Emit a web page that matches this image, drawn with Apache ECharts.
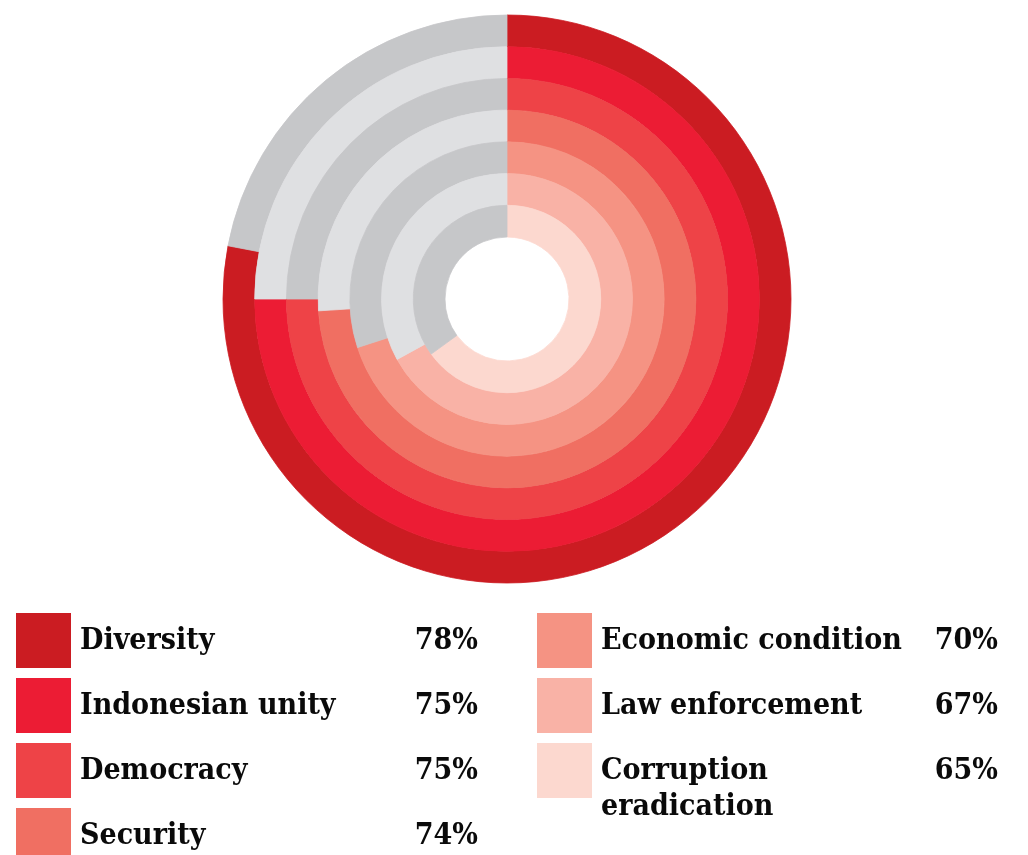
<!DOCTYPE html>
<html>
<head>
<meta charset="utf-8">
<script src="https://cdn.jsdelivr.net/npm/echarts@6/dist/echarts.min.js"></script>
<style>
  html, body { margin: 0; padding: 0; background: #fff; }
  #chart { width: 1028px; height: 855px; }
</style>
</head>
<body>
<div id="chart"></div>
<script>
const categories = ["Diversity", "Indonesian unity", "Democracy", "Security", "Economic condition", "Law enforcement", "Corruption eradication"];
const values = [78, 75, 75, 74, 70, 67, 65];
const colors = ["#cb1c22", "#ec1c34", "#ee4347", "#f06f62", "#f59383", "#f9b2a6", "#fcd8cf"];
const grays = ["#c6c7c9", "#dfe0e2"];

const chart = echarts.init(document.getElementById("chart"));

const outer = 284;
const inner = 62;
const step = (outer - inner) / categories.length;
const font = "bold 30px 'Roboto Slab', 'DejaVu Serif Condensed', 'DejaVu Serif', serif";

// one pie per ring, colored share + grey remainder
const series = categories.map((name, i) => ({
  type: "pie",
  name: name,
  center: [507, 299],
  radius: [outer - step * (i + 1), outer - step * i],
  startAngle: 90,
  clockwise: true,
  silent: true,
  animation: false,
  label: { show: false },
  labelLine: { show: false },
  data: [
    { value: values[i], name: name, itemStyle: { color: colors[i], borderColor: colors[i], borderWidth: 0.8 } },
    { value: 100 - values[i], name: "rest", itemStyle: { color: grays[i % 2], borderColor: grays[i % 2], borderWidth: 0.8 } },
  ],
}));

// legend: two columns, 4 + 3 rows
const graphic = [];
categories.forEach((name, i) => {
  const col = i < 4 ? 0 : 1;
  const row = col === 0 ? i : i - 4;
  const x0 = col === 0 ? 16 : 537;
  const y0 = 613 + row * 65;
  const right = col === 0 ? 478 : 998;
  graphic.push({
    type: "rect",
    shape: { x: x0, y: y0, width: 55, height: 55 },
    style: { fill: colors[i] },
  });
  const lines = name === "Corruption eradication" ? ["Corruption", "eradication"] : [name];
  lines.forEach((ln, k) => {
    graphic.push({
      type: "text",
      style: {
        text: ln, x: x0 + 64, y: y0 + 28 + k * 36,
        font: font, fill: "#0a0a0a", textAlign: "left", textVerticalAlign: "middle",
      },
    });
  });
  graphic.push({
    type: "text",
    style: {
      text: values[i] + "%", x: right, y: y0 + 28,
      font: font, fill: "#0a0a0a", textAlign: "right", textVerticalAlign: "middle",
    },
  });
});

chart.setOption({
  backgroundColor: "#fff",
  series: series,
  graphic: graphic,
});
</script>
</body>
</html>
